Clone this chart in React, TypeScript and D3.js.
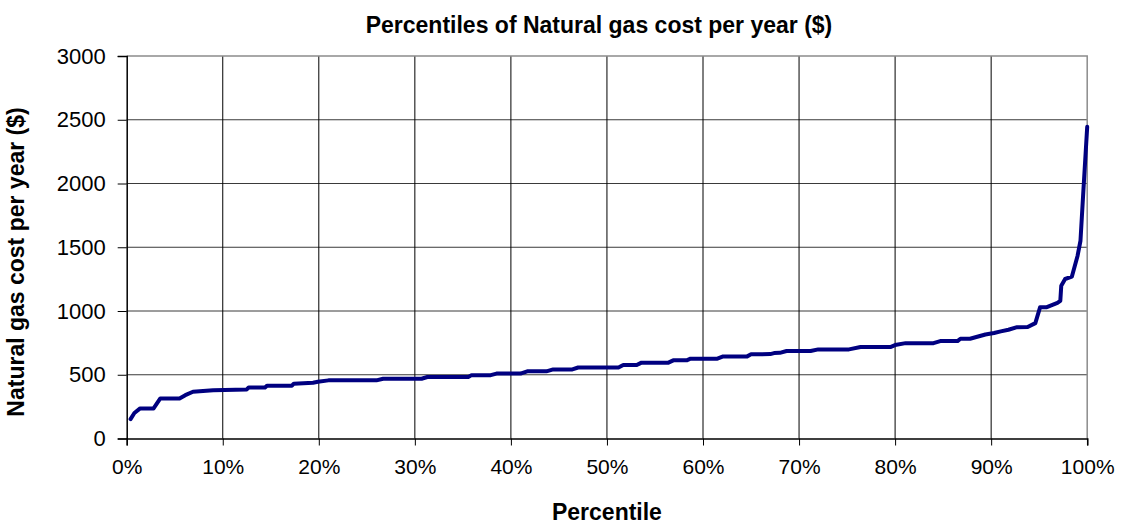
import React, { useRef, useEffect } from 'react';
import * as d3 from 'd3';

// Data
const percentiles = [
  0.004, 0.008, 0.014, 0.028, 0.035, 0.055, 0.061, 0.069, 0.09, 0.125, 0.127, 0.144, 0.146,
  0.172, 0.174, 0.194, 0.199, 0.21, 0.26, 0.267, 0.307, 0.313, 0.356, 0.359, 0.379, 0.385,
  0.41, 0.417, 0.437, 0.444, 0.464, 0.47, 0.512, 0.517, 0.531, 0.536, 0.564, 0.569, 0.583,
  0.587, 0.615, 0.621, 0.646, 0.65, 0.67, 0.674, 0.68, 0.687, 0.712, 0.72, 0.752, 0.764,
  0.795, 0.8, 0.811, 0.84, 0.847, 0.865, 0.868, 0.878, 0.894, 0.903, 0.91, 0.918, 0.927,
  0.938, 0.946, 0.951, 0.958, 0.969, 0.972, 0.973, 0.977, 0.984, 0.99, 0.993, 0.996, 1.0,
];
const costs = [
  152, 200, 236, 236, 314, 314, 340, 367, 379, 385, 400, 400, 414,
  414, 430, 437, 445, 456, 456, 469, 469, 482, 483, 497, 497, 509,
  509, 527, 527, 542, 542, 557, 557, 576, 576, 595, 595, 613, 613,
  626, 626, 644, 644, 660, 662, 670, 672, 686, 686, 699, 699, 717,
  717, 733, 748, 748, 764, 764, 782, 782, 816, 827, 840, 853, 873,
  874, 905, 1030, 1030, 1064, 1080, 1199, 1251, 1269, 1434, 1551, 1941, 2445,
];
const yTicks = [0, 500, 1000, 1500, 2000, 2500, 3000];
const xTicks = [0, 0.1, 0.2, 0.3, 0.4, 0.5, 0.6, 0.7, 0.8, 0.9, 1.0];

const FONT = '"Liberation Sans", Arial, sans-serif';

const PercentileChart = () => {
  const chartRef = useRef(null);

  useEffect(() => {
    d3.select(chartRef.current).selectAll('*').remove();

    const width = 1122;
    const height = 527;
    const left = 126.7;
    const right = 1087.2;
    const top = 56;
    const bottom = 438.5;

    const x = d3.scaleLinear().domain([0, 1]).range([left, right]);
    const y = d3.scaleLinear().domain([0, 3000]).range([bottom, top]);

    const svg = d3.select(chartRef.current)
      .append('svg')
      .attr('width', width)
      .attr('height', height)
      .style('display', 'block')
      .style('background', '#fff');

    // horizontal gridlines
    svg.append('g')
      .selectAll('line')
      .data(yTicks.filter(d => d > 0 && d < 3000))
      .enter()
      .append('line')
      .attr('x1', left)
      .attr('x2', right)
      .attr('y1', d => y(d))
      .attr('y2', d => y(d))
      .attr('stroke', '#3a3a3a')
      .attr('stroke-width', 1);

    // vertical gridlines
    svg.append('g')
      .selectAll('line')
      .data(xTicks.filter(d => d > 0 && d < 1))
      .enter()
      .append('line')
      .attr('x1', d => x(d))
      .attr('x2', d => x(d))
      .attr('y1', top)
      .attr('y2', bottom)
      .attr('stroke', '#000')
      .attr('stroke-width', 1);

    // top and right border
    svg.append('path')
      .attr('d', `M${left},${top}H${right}V${bottom}`)
      .attr('fill', 'none')
      .attr('stroke', '#8c8c8c')
      .attr('stroke-width', 1.5);

    // y axis
    const yAxis = svg.append('g')
      .attr('transform', `translate(${left},0)`)
      .call(d3.axisLeft(y).tickValues(yTicks).tickSize(9).tickPadding(12).tickFormat(d3.format('d')));
    yAxis.select('.domain').attr('stroke', '#000').attr('stroke-width', 1.5);
    yAxis.selectAll('.tick line').attr('stroke', '#000');
    yAxis.selectAll('.tick text')
      .attr('fill', '#000')
      .style('font-family', FONT)
      .style('font-size', '22px');

    // x axis
    const xAxis = svg.append('g')
      .attr('transform', `translate(0,${bottom})`)
      .call(d3.axisBottom(x).tickValues(xTicks).tickSize(7).tickPadding(14).tickFormat(d3.format('.0%')));
    xAxis.select('.domain').attr('stroke', '#000').attr('stroke-width', 1.5);
    xAxis.selectAll('.tick line').attr('stroke', '#000');
    xAxis.selectAll('.tick text')
      .attr('fill', '#000')
      .style('font-family', FONT)
      .style('font-size', '21px');

    // line
    const points = percentiles.map((p, i) => [p, costs[i]]);
    const line = d3.line()
      .x(d => x(d[0]))
      .y(d => y(d[1]));

    svg.append('path')
      .datum(points)
      .attr('d', line)
      .attr('fill', 'none')
      .attr('stroke', '#000080')
      .attr('stroke-width', 4)
      .attr('stroke-linejoin', 'round')
      .attr('stroke-linecap', 'round');

    // titles
    svg.append('text')
      .attr('x', 599)
      .attr('y', 33)
      .attr('text-anchor', 'middle')
      .style('font-family', FONT)
      .style('font-weight', 'bold')
      .style('font-size', '23px')
      .text('Percentiles of Natural gas cost per year ($)');

    svg.append('text')
      .attr('x', (left + right) / 2)
      .attr('y', 520)
      .attr('text-anchor', 'middle')
      .style('font-family', FONT)
      .style('font-weight', 'bold')
      .style('font-size', '23px')
      .text('Percentile');

    svg.append('text')
      .attr('transform', 'translate(24,262) rotate(-90)')
      .attr('text-anchor', 'middle')
      .style('font-family', FONT)
      .style('font-weight', 'bold')
      .style('font-size', '23px')
      .text('Natural gas cost per year ($)');

    return () => {
      d3.select(chartRef.current).selectAll('*').remove();
    };
  }, []);

  return <div ref={chartRef} style={{ position: 'absolute', left: 0, top: 0, width: '1122px', height: '527px' }} />;
};

export default function App() {
  return <PercentileChart />;
}
